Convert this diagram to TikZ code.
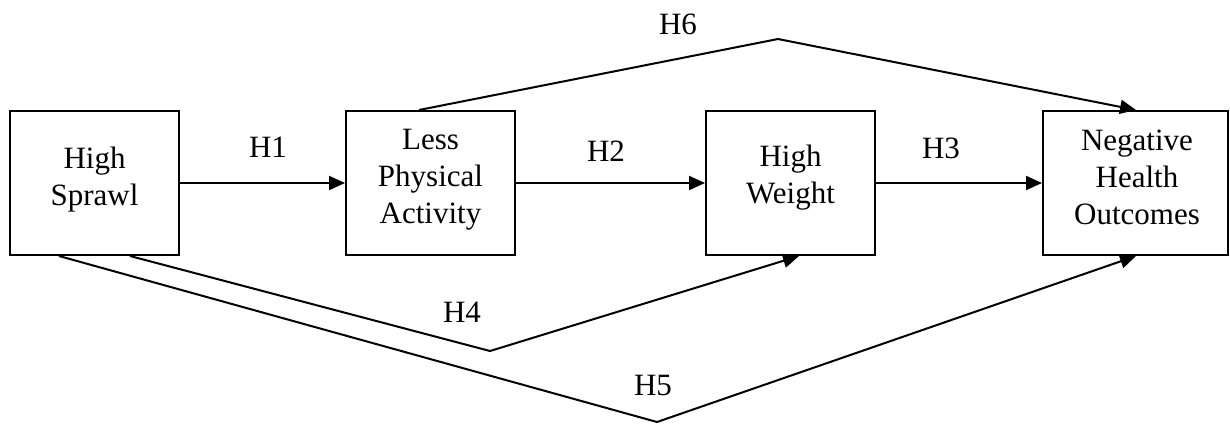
\documentclass[tikz,border=0pt]{standalone}
\usepackage{fontspec}
\setmainfont{Liberation Serif}
\usetikzlibrary{arrows.meta}
\begin{document}
\begin{tikzpicture}[x=1pt,y=-1pt,
  box/.style={draw,line width=2pt,minimum width=169pt,minimum height=144pt,inner sep=0pt},
  txt/.style={font=\fontsize{31}{37}\selectfont,align=center,inner sep=0pt},
  lbl/.style={font=\fontsize{31}{37}\selectfont,inner sep=0pt},
  conn/.style={line width=2pt,-{Triangle[length=16pt,width=14pt]}},
]
\useasboundingbox (0,0) rectangle (1230,423);

% boxes
\node[box] (hs)  at (94.5,183) {};
\node[box] (lpa) at (430.5,183) {};
\node[box] (hw)  at (790.5,183) {};
\node[box,minimum width=185pt] (nho) at (1135.5,183) {};

% box texts
\node[txt] (hst)  at (94.5,180) {High\\Sprawl};
\node[txt] (lpat) at (430.5,180) {Less\\Physical\\Activity};
\node[txt] (hwt)  at (790.5,178) {High\\Weight};
\node[txt] (nhot) at (1137,177) {Negative\\Health\\Outcomes};

% bend points
\coordinate (p6) at (778,39);
\coordinate (p4) at (490,351);
\coordinate (p5) at (657,422);

% connectors
\draw[conn] (hs.east) -- (lpa.west);
\draw[conn] (lpa.east) -- (hw.west);
\draw[conn] (hw.east) -- (nho.west);
\draw[conn] ([xshift=74pt]lpa.north west) -- (p6) -- ([xshift=94pt]nho.north west);
\draw[conn] ([xshift=121pt]hs.south west) -- (p4) -- ([xshift=94pt]hw.south west);
\draw[conn] ([xshift=50pt]hs.south west) -- (p5) -- ([xshift=94pt]nho.south west);

% labels
\node[lbl] (h1) at (268,147) {H1};
\node[lbl] (h2) at (606,151) {H2};
\node[lbl] (h3) at (941,148) {H3};
\node[lbl] (h4) at (462,312) {H4};
\node[lbl] (h5) at (653,385) {H5};
\node[lbl] (h6) at (678,24) {H6};
\end{tikzpicture}
\end{document}
